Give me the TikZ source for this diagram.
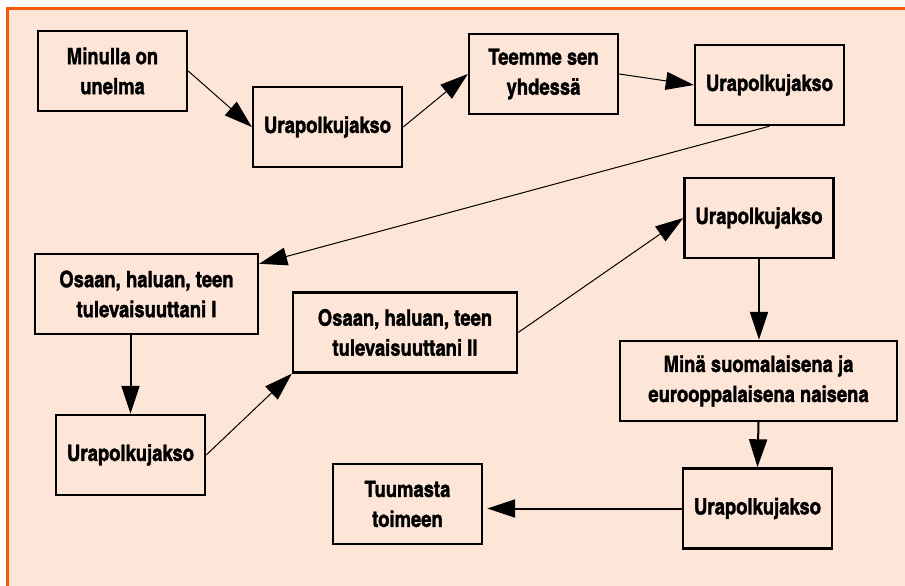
\documentclass[tikz,border=0pt]{standalone}
\usepackage{fontspec}
\newfontfamily\boxfont{texgyreheroscn-bold}[Extension=.otf,FakeBold=1.5]
\usepackage{tikz}
\usetikzlibrary{arrows.meta}
\definecolor{peach}{RGB}{253,229,215}
\definecolor{frameorange}{RGB}{250,88,5}

\begin{document}
\begin{tikzpicture}[x=1pt,y=-1pt,
  box/.style={draw,line width=2.4pt,minimum width=149pt,minimum height=80pt,
    align=center,inner sep=0pt,font=\boxfont\fontsize{22.5}{30}\selectfont},
  link/.style={-{Triangle[length=28pt,width=18pt]},line width=1pt},
  vlink/.style={link,line width=2pt}]
\useasboundingbox (0,0) rectangle (905,586);
\fill[peach] (6,7) rectangle (905,586);
\draw[frameorange,line width=2.7pt] (7.3,586) -- (7.3,8.5) -- (905,8.5);
% boxes
\node (min) at (112.5,71) [box]{Minulla on\\unelma};
\node (ura1) at (327.5,127) [box]{Urapolkujakso};
\node (teem) at (543.5,74) [box]{Teemme sen\\yhdessä};
\node (ura2) at (769.5,85) [box]{Urapolkujakso};
\node (osa1) at (146.5,294) [box,minimum width=223pt]{Osaan, haluan, teen\\tulevaisuuttani I};
\node (ura4) at (130.5,455) [box]{Urapolkujakso};
\node (osa2) at (405,332.5) [box,minimum width=224pt]{Osaan, haluan, teen\\tulevaisuuttani II};
\node (ura3) at (759,218) [box]{Urapolkujakso};
\node (mina) at (758.5,381) [box,minimum width=277pt]{Minä suomalaisena ja\\eurooppalaisena naisena};
\node (ura5) at (757.5,508.5) [box]{Urapolkujakso};
\node (tuum) at (407.5,504) [box]{Tuumasta\\toimeen};
% arrows
\draw [link] (min.east) -- (ura1.west);
\draw [link] (ura1.east) -- (teem.west);
\draw [link] (teem.east) -- (ura2.west);
\draw [link] (ura2.south) -- (osa1.15);
\draw [vlink] (ura4.north |- osa1.south) -- (ura4.north);
\draw [link] (ura4.east) -- (osa2.south west);
\draw [link] (osa2.east) -- (ura3.west);
\draw [vlink] (ura3.south) -- (ura3.south |- mina.north);
\draw [vlink] (mina.south) -- (ura5.north);
\draw [vlink,shorten >=4pt] (ura5.west) -- (ura5.west -| tuum.east);
\end{tikzpicture}
\end{document}
